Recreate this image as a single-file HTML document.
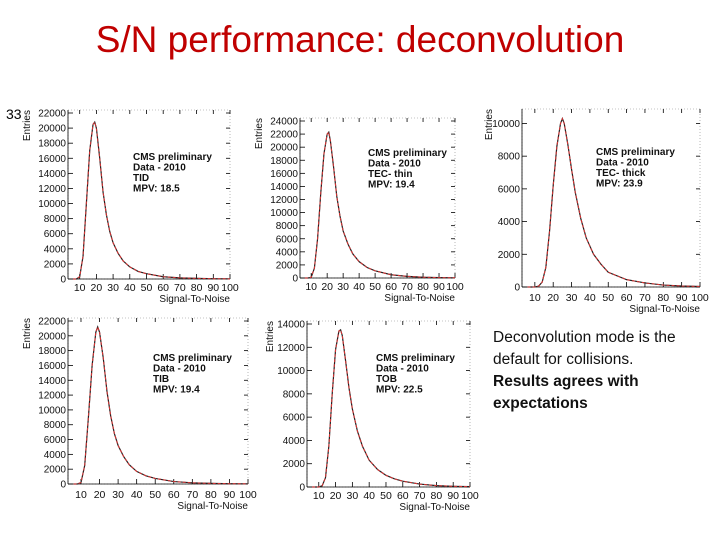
<!DOCTYPE html>
<html><head><meta charset="utf-8"><style>
body{margin:0;background:#fff;}
#wrap{position:relative;width:720px;height:540px;overflow:hidden;font-family:"Liberation Sans",sans-serif;}
#title{position:absolute;left:0;width:720px;top:19px;text-align:center;font-size:37px;color:#c00000;}
#num{position:absolute;left:6px;top:106px;font-size:14px;}
#note{position:absolute;left:493px;top:327px;font-size:15.5px;line-height:22px;color:#111;}
</style></head><body>
<div id="wrap">
<div id="title">S/N performance: deconvolution</div>
<div id="num">33</div>
<div id="note">Deconvolution mode is the<br>default for collisions.<br><b>Results agrees with<br>expectations</b></div>
<svg id="svg" width="720" height="540" style="position:absolute;left:0;top:0"></svg>
</div>
<script>
const xs1=[6,8,10,12,14,16,18,19,20,22,24,26,28,30,33,36,40,45,50,60,70,80,90,100];
const y1=[0,0,300,3000,10000,17000,20500,20800,20000,16000,11500,8500,6300,4800,3400,2400,1600,1000,700,300,150,80,40,20];
const xs2=[6,8,10,12,14,16,18,20,21,22,24,26,28,30,33,36,40,45,50,60,70,80,90,100];
const y2=[0,0,100,1500,6000,13000,19000,22000,22300,21000,17000,12500,9500,7200,5200,3700,2500,1600,1100,500,250,120,60,30];
const xs3=[6,10,12,14,16,18,20,22,24,25,26,28,30,32,35,38,42,46,50,60,70,80,90,100];
const y3=[0,0,50,300,1200,3400,6200,8600,10000,10300,10000,8700,7200,5800,4200,3000,2000,1400,900,450,250,120,60,30];
const xs4=[6,8,10,12,14,16,18,19,20,22,24,26,28,30,33,36,40,45,50,60,70,80,90,100];
const y4=[0,0,200,2500,9000,16000,20500,21200,20500,17000,12500,9200,6800,5200,3700,2600,1700,1100,750,330,160,80,40,20];
const xs5=[6,10,12,14,16,18,20,22,23,24,26,28,30,33,36,40,45,50,55,60,70,80,90,100];
const y5=[0,0,100,800,3500,8000,11800,13400,13500,13000,10800,8500,6700,4800,3500,2300,1500,1000,700,500,250,120,60,30];
const panels=[
 {name:'tid',xs:xs1,ys:y1,yt:[0,2000,4000,6000,8000,10000,12000,14000,16000,18000,20000,22000],ymax:22000,L:68,R:230,T:113,B:279,xl:287,leg:['CMS preliminary','Data - 2010','TID','MPV: 18.5'],lx:133,ly:160},
 {name:'tec-thin',xs:xs2,ys:y2,yt:[0,2000,4000,6000,8000,10000,12000,14000,16000,18000,20000,22000,24000],ymax:24000,L:300,R:455,T:121,B:278,xl:286,leg:['CMS preliminary','Data - 2010','TEC- thin','MPV: 19.4'],lx:368,ly:156},
 {name:'tec-thick',xs:xs3,ys:y3,yt:[0,2000,4000,6000,8000,10000],ymax:10700,L:522,R:700,T:112,B:287,xl:297,leg:['CMS preliminary','Data - 2010','TEC- thick','MPV: 23.9'],lx:596,ly:155},
 {name:'tib',xs:xs4,ys:y4,yt:[0,2000,4000,6000,8000,10000,12000,14000,16000,18000,20000,22000],ymax:22000,L:68,R:248,T:321,B:484,xl:494,leg:['CMS preliminary','Data - 2010','TIB','MPV: 19.4'],lx:153,ly:361},
 {name:'tob',xs:xs5,ys:y5,yt:[0,2000,4000,6000,8000,10000,12000,14000],ymax:14000,L:307,R:470,T:324,B:487,xl:495,leg:['CMS preliminary','Data - 2010','TOB','MPV: 22.5'],lx:376,ly:361}
];
const xt=[10,20,30,40,50,60,70,80,90,100];
const svg=document.getElementById('svg');
const NS='http://www.w3.org/2000/svg';
function mk(t,a,p){const e=document.createElementNS(NS,t);for(const k in a)e.setAttribute(k,a[k]);p.appendChild(e);return e;}
panels.forEach(p=>{
 const g=mk('g',{},svg);
 
 
 const xmin=3,xmax=100;
 const X=v=>p.L+(v-xmin)/(xmax-xmin)*(p.R-p.L);
 const Y=v=>p.B-v/p.ymax*(p.B-p.T);
 const top=p.T-3;
 mk('rect',{x:p.L,y:top,width:p.R-p.L,height:p.B-top,fill:'none',stroke:'#888','stroke-width':0.6,'stroke-dasharray':'1,2'},g);
 mk('line',{x1:p.L,y1:top,x2:p.L,y2:p.B,stroke:'#000','stroke-width':0.8},g);
 mk('line',{x1:p.L,y1:p.B,x2:p.R,y2:p.B,stroke:'#000','stroke-width':0.8},g);
 p.yt.forEach(v=>{
  mk('line',{x1:p.L,y1:Y(v),x2:p.L+5,y2:Y(v),stroke:'#000','stroke-width':0.8},g);
  mk('line',{x1:p.R,y1:Y(v),x2:p.R-4,y2:Y(v),stroke:'#000','stroke-width':0.8},g);
  const t=mk('text',{x:p.L-2,y:Y(v)+3.5,'font-size':10,'text-anchor':'end',fill:'#111'},g);
  t.textContent=v;
  
  
 });
 xt.forEach(v=>{
  mk('line',{x1:X(v),y1:p.B,x2:X(v),y2:p.B-5,stroke:'#000','stroke-width':0.8},g);
  mk('line',{x1:X(v),y1:top,x2:X(v),y2:top+4,stroke:'#000','stroke-width':0.8},g);
  const t=mk('text',{x:X(v),y:p.xl+4,'font-size':10.5,'text-anchor':'middle',fill:'#111'},g);
  t.textContent=v;
  
  
 });
 const xa=mk('text',{x:p.R,y:p.xl+15,'font-size':10,'text-anchor':'end',fill:'#111'},g);
 xa.textContent='Signal-To-Noise';
 
 
 const ya=mk('text',{x:0,y:0,'font-size':10,'text-anchor':'end',fill:'#111',transform:`translate(${p.L-(p.ymax>=20000?38:(p.ymax>=14000?34:30))},${top}) rotate(-90)`},g);
 ya.textContent='Entries';
 
 
 let f='';
 p.xs.forEach((x,i)=>{f+=(i?'L':'M')+X(x)+','+Y(p.ys[i]);});
 const h=mk('path',{d:f,fill:'none',stroke:'#222','stroke-width':1.2},g);
 
 
 const c=mk('path',{d:f,fill:'none',stroke:'#d33','stroke-width':1,'stroke-dasharray':'3,2'},g);
 
 
 p.leg.forEach((s,i)=>{
  const t=mk('text',{x:p.lx,y:p.ly+i*10.5,'font-size':10,'font-weight':'bold',fill:'#111'},g);
  t.textContent=s;
  
  
 });
});
</script>
</body></html>
